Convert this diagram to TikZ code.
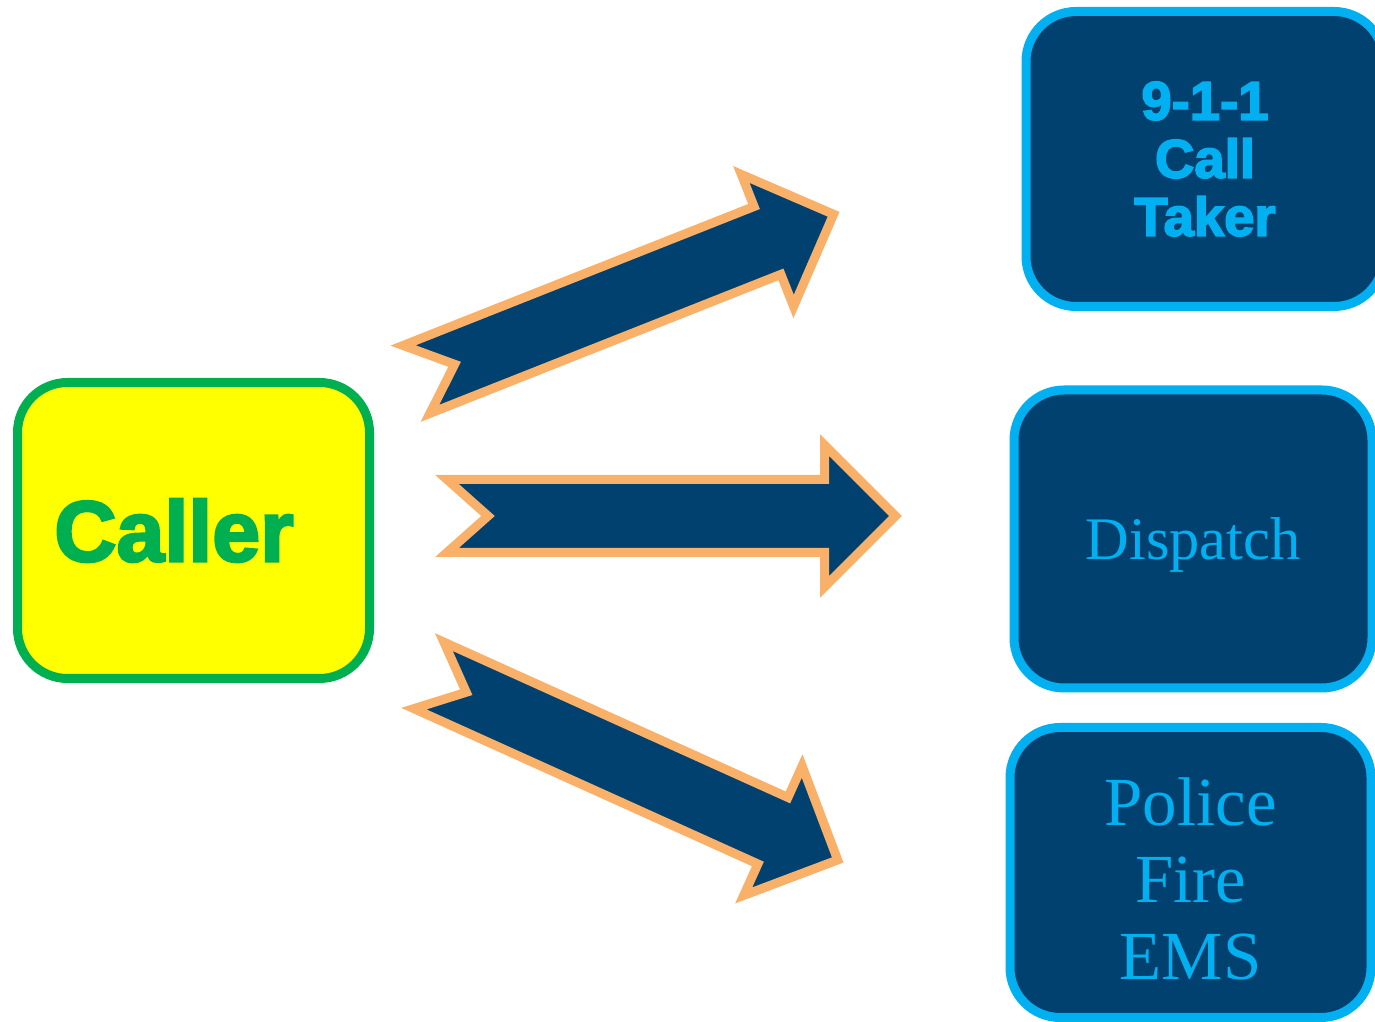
\documentclass[tikz,border=0pt]{standalone}
\usepackage{fontspec}
\setmainfont{Liberation Serif}
\newfontfamily\heavyfont[BoldFeatures={FakeBold=3}]{Liberation Sans}
\definecolor{navy}{HTML}{00416F}
\definecolor{sky}{HTML}{00B0F0}
\definecolor{peach}{HTML}{F9B16A}
\definecolor{leaf}{HTML}{00B050}
\definecolor{lemon}{HTML}{FFFF00}

\begin{document}
\begin{tikzpicture}[x=0.1mm, y=-0.1mm,
    box/.style={rectangle, rounded corners=5mm, line width=0.9mm, align=center},
    callerbox/.style={box, draw=leaf, fill=lemon, text=leaf, minimum width=35.2mm, minimum height=29.6mm, font=\heavyfont\bfseries\fontsize{24.5}{29}\selectfont},
    agencybox/.style={box, draw=sky, fill=navy, text=sky},
    pics/flowarrow/.style={code={
        \draw[line width=0.9mm, draw=peach, fill=navy] (7,36.5) -- (48,0) -- (7,-36.5) -- (384.5,-36.5) -- (384.5,-71) -- (455.6,0) -- (384.5,71) -- (384.5,36.5) -- cycle;
    }}]
  % \draw[help lines] (0,0) grid (1375,1022);
  \useasboundingbox (0,0) rectangle (1375,1022);

  \node (caller) at (193.5,530.5) [callerbox] {Caller\hspace*{3.9mm}};

  \node (taker) at (1205,159) [agencybox, minimum width=35.8mm, minimum height=29.5mm, font=\heavyfont\bfseries\fontsize{15.5}{16.5}\selectfont] {9-1-1\\Call\\Taker};
  \node (dispatch) at (1193,539) [agencybox, minimum width=35.8mm, minimum height=29.8mm, text depth=0pt, font=\fontsize{17.2}{19}\selectfont] {Dispatch};
  \node (responders) at (1190.5,872.5) [agencybox, minimum width=36.1mm, minimum height=29mm, font=\fontsize{19.6}{21.9}\selectfont] {\rule{0pt}{6mm}Police\\Fire\\EMS};

  \coordinate (up tail) at (410,382);
  \coordinate (mid tail) at (440,516);
  \coordinate (down tail) at (422.5,672.5);
  \pic[rotate=21.6] at (up tail) {flowarrow};
  \pic at (mid tail) {flowarrow};
  \pic[rotate=-24.3] at (down tail) {flowarrow};
\end{tikzpicture}
\end{document}
